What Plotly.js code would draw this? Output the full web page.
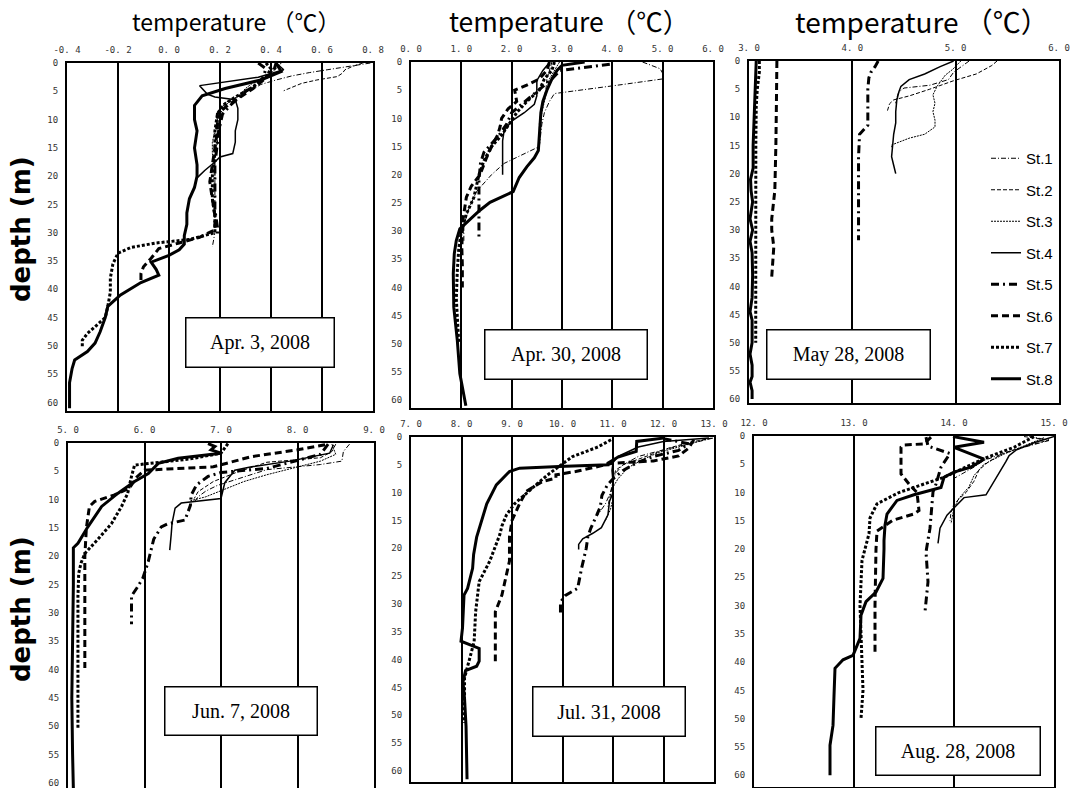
<!DOCTYPE html>
<html><head><meta charset="utf-8">
<script src="https://cdn.plot.ly/plotly-3.0.1.min.js"></script>
<style>html,body{margin:0;padding:0;background:#fff;} #chart{width:1071px;height:788px;}</style>
</head><body><div id="chart"></div>
<script>
// ---------- data ----------
const stations = ['St.1','St.2','St.3','St.4','St.5','St.6','St.7','St.8'];
const dates = ['Apr. 3, 2008','Apr. 30, 2008','May 28, 2008','Jun. 7, 2008','Jul. 31, 2008','Aug. 28, 2008'];
const depthTickVals = [0,5,10,15,20,25,30,35,40,45,50,55,60];

const apr03TickVals = [-0.4,-0.2,0,0.2,0.4,0.6,0.8];
const apr03TickText = ['-0. 4','-0. 2','0. 0','0. 2','0. 4','0. 6','0. 8'];
const apr30TickVals = [0,1,2,3,4,5,6];
const apr30TickText = ['0. 0','1. 0','2. 0','3. 0','4. 0','5. 0','6. 0'];
const may28TickVals = [3,4,5,6];
const may28TickText = ['3. 0','4. 0','5. 0','6. 0'];
const jun07TickVals = [5,6,7,8,9];
const jun07TickText = ['5. 0','6. 0','7. 0','8. 0','9. 0'];
const jul31TickVals = [7,8,9,10,11,12,13];
const jul31TickText = ['7. 0','8. 0','9. 0','10. 0','11. 0','12. 0','13. 0'];
const aug28TickVals = [12,13,14,15];
const aug28TickText = ['12. 0','13. 0','14. 0','15. 0'];

// Apr. 3, 2008 (temperature per station, depth per station)
const apr03Temp = [
 [0.79,0.70,0.62,0.55,0.48,0.42,0.36,0.33,0.28,0.25,0.22,0.20,0.19,0.19,0.18,0.18,0.18,0.18,0.18,0.17],
 [0.76,0.72,0.69,0.68,0.66,0.58,0.52,0.48,0.45],
 [0.44,0.42,0.38,0.33,0.30,0.27,0.22,0.20,0.19,0.18,0.17,0.17,0.18,0.18],
 [0.42,0.45,0.35,0.12,0.15,0.18,0.26,0.27,0.27,0.26,0.26,0.25,0.20,0.18,0.14,0.11],
 [0.35,0.38,0.37,0.34,0.30,0.27,0.24,0.21,0.20,0.19,0.18,0.18,0.18,0.19,0.19],
 [0.42,0.41,0.37,0.33,0.28,0.23,0.19,0.19,0.18,0.17,0.16,0.17,0.18,0.18,0.12,0.04,-0.04,-0.07,-0.10,-0.11,-0.11],
 [0.38,0.40,0.38,0.32,0.26,0.21,0.19,0.18,0.18,0.17,0.17,0.18,0.18,0.08,-0.05,-0.15,-0.20,-0.22,-0.23,-0.23,-0.24,-0.25,-0.29,-0.32,-0.34,-0.34],
 [0.42,0.44,0.36,0.22,0.13,0.10,0.10,0.11,0.10,0.11,0.11,0.10,0.08,0.07,0.07,0.06,0.06,0.04,0.00,-0.07,-0.05,-0.04,-0.11,-0.19,-0.24,-0.25,-0.27,-0.29,-0.32,-0.37,-0.38,-0.39,-0.39]
];
const apr03Depth = [
 [0,0.7,1.2,1.7,2.3,3.0,3.8,4.6,5.5,6.5,7.5,9,11,14,17,20,24,28,30,32.5],
 [0,0.6,1.2,1.8,2.4,3.0,3.6,4.3,4.9],
 [0,1,2.5,3.5,4.5,6,7,8.5,10,12,14,16,18,20],
 [0,1.2,2.5,4.0,5.5,6,6.5,8,10,12,14,16,16.6,17.5,19,20.3],
 [0,1,2.5,4,5,6.2,7.5,9,11,14,18,22,26,29,30.5],
 [0,1.5,3.0,4.5,6,7.5,9,12,15,18,21,24,27,29.5,30.8,31.8,32.8,34.5,36,37.2,38.5],
 [0,1,2.5,4.5,6,7.5,9,12,16,20,24,27,30,31.2,31.8,32.6,33.6,35.5,38,40.5,43,45,46.6,47.8,49,50.4],
 [0,1.5,3,4.5,5.8,7.5,10,12,15,18,20,22,24,26.5,28.5,30.5,32,33,34,35.2,36.5,37.5,38.8,41,43,45,47.5,49.5,51,52.5,54,56.5,61]
];

// Apr. 30, 2008
const apr30Temp = [
 [4.6,4.95,5.0,5.0,4.2,3.4,2.85,2.75,2.65,2.6,2.58,2.55,2.2,1.85,1.6,1.3,1.15,1.05,1.05],
 [2.8,2.75,2.7,2.68,2.62,2.58,2.55,2.55,2.55],
 [2.95,2.85,2.75,2.7,2.65,2.6,2.58,2.56,2.55],
 [2.76,2.62,2.5,2.5,2.45,2.25,2.0,1.85,1.82,1.82,1.82,1.82],
 [3.95,3.5,2.96,2.8,2.6,2.4,2.2,2.0,1.9,1.75,1.6,1.45,1.38,1.35,1.35,1.35,1.35],
 [2.75,2.7,2.55,2.3,2.06,2.1,1.93,1.8,1.77,1.72,1.6,1.5,1.37,1.2,1.1,1.04,1.02,1.01,1.02,1.02],
 [2.85,2.8,2.65,2.55,2.3,2.1,1.95,1.8,1.6,1.45,1.35,1.3,1.25,1.1,1.0,0.95,0.92,0.9,0.92,0.95],
 [3.45,3.0,2.9,2.8,2.7,2.62,2.58,2.56,2.55,2.53,2.45,2.3,2.15,2.03,1.57,1.37,1.17,0.97,0.9,0.86,0.84,0.85,0.92,0.97,1.09]
];
const apr30Depth = [
 [0,1.2,2,3,4,5,5.6,7,9,11,13,15,16.5,18,20,23,26,29,32],
 [0,1.5,3,5,7,9,11,13,15],
 [0,1.5,3,5,7,9,11,13,15],
 [0,1.5,3.3,6,7.5,9,10.5,12.2,14,16,18,20],
 [0.4,0.9,1.5,3,4.5,6,7.5,9,11,13,14.5,16,18,21,25,28,31.5],
 [0,1.5,3,4.1,5,7,8.3,10,11.5,13,15,17,20,22,24,27.5,30,33,36,40],
 [0,1.5,3,5,7,9,11,13,15,17.5,20,22,24,27,30,33,37,42,46,50],
 [0,0.6,1.5,3,5,7,9,11,13,15.7,17,18.6,20.5,23,24.9,26.3,28,29.6,31.7,34,37.6,43.5,49.4,55.3,61]
];

// May 28, 2008
const may28Temp = [
 [5.13,5.05,4.98,4.93,4.75,4.5,4.45,4.43,4.42],
 [5.4,5.35,5.2,4.98,4.75,4.55,4.4,4.36,4.34],
 [5.05,4.97,4.9,4.82,4.78,4.8,4.78,4.8,4.8,4.7,4.55,4.38,4.38],
 [4.98,4.85,4.7,4.55,4.47,4.45,4.43,4.42,4.42,4.4,4.39,4.38,4.4,4.42],
 [4.25,4.22,4.18,4.16,4.15,4.15,4.15,4.07,4.06,4.06,4.06,4.06],
 [3.27,3.27,3.265,3.26,3.25,3.22,3.22,3.24,3.23,3.22],
 [3.1,3.1,3.08,3.07,3.066,3.065,3.065,3.066,3.065],
 [3.07,3.06,3.05,3.04,3.04,3.015,3.02,3.035,3.01,3.035,3.01,3.03,3.035,3.03,3.01,3.03,3.03,3.01,3.03,3.03,3.01,3.03,3.03]
];
const may28Depth = [
 [0,1,2,3.3,4.3,4.8,5.5,6.5,7.5],
 [0,0.8,2.3,3.5,5,6.2,6.9,7.6,8.8],
 [0,1.5,2.5,4.5,6,7.5,9,10.5,11.7,13,13.7,14.9,15.3],
 [0,1,2.3,3.3,4.5,5.5,7,9,11,13,15,17,18.5,20],
 [0,1,2,3,5,8,11.4,13,17,23,28,31.8],
 [0,3,8,15,23,28,30,33,36,38.3],
 [0,2,5,8,15,20,30,40,50],
 [0,5,10,15,19,21,23,25,28,30,32,34,38,42,44.5,46,50,52,54,56,57,58.5,60]
];

// Jun. 7, 2008
const jun07Temp = [
 [8.68,8.6,8.58,8.3,7.6,7.4,7.2,6.95,6.8,6.7,6.64],
 [8.5,8.45,8.3,7.6,7.2,6.9,6.7,6.65],
 [8.45,8.5,8.3,7.6,7.3,7.0,6.8,6.6],
 [8.47,8.42,7.9,7.4,7.18,7.05,7.0,6.48,6.4,6.36,6.35,6.33],
 [8.4,8.3,7.6,7.0,6.83,6.68,6.61,6.6,6.53,6.3,6.22,6.12,6.05,5.98,5.9,5.83,5.83],
 [8.36,8.0,7.4,6.9,6.3,6.0,5.9,5.8,5.6,5.35,5.28,5.24,5.22,5.22,5.22,5.22],
 [7.09,7.0,6.6,5.87,5.83,5.78,5.7,5.57,5.39,5.22,5.17,5.14,5.13,5.13,5.13,5.13],
 [6.83,6.92,6.87,7.0,6.44,6.18,6.05,5.87,5.65,5.44,5.26,5.13,5.07,5.07,5.06,5.05,5.06,5.07]
];
const jun07Depth = [
 [0.2,1.5,3.2,3.8,4.7,5.6,6.5,7.5,8.5,9.5,10.6],
 [0.2,1.5,2.6,3.4,5.2,6.8,8.6,9.8],
 [0.2,2,3.2,5.6,6.8,8.5,9.5,10.2],
 [0.3,1.8,3.2,4.2,4.8,7,9.8,10.6,11.5,14.2,16,18.9],
 [0.2,2,4.5,5.2,5.9,7.4,9.2,11,13.6,14.3,14.8,17,20.9,23.8,25.6,27,32],
 [0.3,1.2,2.4,4.2,4.6,4.8,6,8,9.2,10.3,11.2,15,20,27,33,39.7],
 [0.1,1.8,2.8,3.9,5.9,8.9,11.2,14.2,17,19.5,21.2,23,27,35,45,50.6],
 [0.1,0.6,1.2,1.8,2.7,3.6,5.4,6.8,8.9,11.2,14.8,17.7,18.5,25,35,45,55,61]
];

// Jul. 31, 2008
const jul31Temp = [
 [12.98,12.5,12.0,11.5,11.2,11.05,11.0,10.95,10.85,10.7],
 [12.95,12.5,12.1,11.8,11.5,11.2,11.05,11.0,10.95,10.9],
 [12.9,12.4,11.9,11.6,11.3,11.1,11.0,11.0,10.95,10.85],
 [12.9,12.0,11.5,11.1,11.0,10.98,11.0,11.0,10.93,10.9,10.77,10.6,10.4,10.32,10.32],
 [12.0,12.5,12.3,11.8,11.5,11.2,11.0,10.89,10.78,10.75,10.68,10.56,10.5,10.47,10.38,10.3,10.05,9.96,9.96],
 [12.6,12.5,12.3,11.8,11.0,10.26,9.87,9.87,9.6,9.28,9.15,9.0,8.95,8.95,8.8,8.67,8.67,8.67],
 [10.96,10.7,10.2,9.93,9.75,9.55,9.3,9.05,8.89,8.8,8.76,8.56,8.35,8.28,8.25,8.15,8.06,8.06,8.06],
 [12.0,11.47,11.46,11.1,10.9,10.9,9.93,9.15,8.95,8.69,8.5,8.37,8.3,8.24,8.22,8.12,8.05,8.02,7.99,8.35,8.35,8.3,8.08,8.03,8.06,8.09,8.1,8.11]
];
const jul31Depth = [
 [0.2,1.2,2.3,3.5,5,6.5,8,10,12,14],
 [0.2,1,2,3,4,5,6,8,10,12.5],
 [0.3,1.5,2.8,4,5.5,7.5,9,11,13,15],
 [0.2,0.8,1.8,3.5,4.6,6,8,10,11.6,14,16.3,17.3,18.3,19.3,20.2],
 [0.3,1.2,2.4,3.5,4.5,6,7.5,8.6,10.5,12.5,14,16.4,18,20,23.5,27.2,28.5,29.7,31.7],
 [0.5,2,3.4,4.3,4.7,6.2,6.8,7.4,8,9.8,12,15,18,22.3,28.4,31.4,35,40.3],
 [0.5,1.8,3.5,5.3,6.5,8,10,12,14,16,17.5,22.3,26,31.4,36.8,40.3,43.3,47,51.4],
 [0.2,0.8,2.6,3.6,4.7,5.0,5.3,5.6,6.2,8.6,12,15.7,18,21.1,23.6,27.2,28.4,34.3,36.7,38,40.3,41.2,42,44,47,52,56,61.5]
];

// Aug. 28, 2008
const aug28Temp = [
 [14.75,14.95,14.8,14.6,14.45,14.3,14.2,14.1,14.0],
 [14.7,14.95,14.7,14.5,14.35,14.25,14.2,14.12,14.0,13.97,13.96],
 [14.9,14.7,14.5,14.3,14.2,14.15,14.05,14.0,13.98,13.97],
 [15.0,14.8,14.62,14.55,14.52,14.45,14.38,14.32,14.1,14.0,13.93,13.86,13.85,13.84],
 [13.72,13.74,13.96,13.87,13.82,13.79,13.76,13.72,13.74,13.71],
 [13.77,13.7,13.5,13.47,13.47,13.55,13.63,13.65,13.6,13.39,13.23,13.22,13.21,13.21],
 [14.8,14.6,14.3,13.9,13.7,13.45,13.23,13.16,13.15,13.08,13.06,13.07,13.09,13.07],
 [13.99,14.3,14.0,14.3,14.17,14.0,13.9,13.87,13.6,13.43,13.33,13.31,13.3,13.3,13.29,13.22,13.12,13.07,13.06,12.99,12.89,12.81,12.8,12.79,12.76,12.76]
];
const aug28Depth = [
 [0,0.8,1.5,2.5,3.4,4.3,5.5,6.5,7.5],
 [0.1,0.7,1.9,3,4.5,6,8,10,12,13.5,15],
 [0.3,1.8,3.2,5,7,9,11,12.8,14.5,15.5],
 [0.1,1.2,2.5,3.5,4.5,6.5,8.5,10.4,10.9,12.8,14,16.3,17.5,19],
 [0.2,1.8,3.1,5.5,8.5,9.9,16.3,20.5,25.8,31.1],
 [0.2,1.4,1.6,2,6.7,8.5,10,13.2,13.8,14.9,16.8,20,30,38.8],
 [0.1,2,4,7.3,8.5,10,12,14.5,17.3,22,30,36,45,50],
 [0.1,1.1,2,4.1,5.5,6.4,7.3,9.1,10.4,11.4,13.8,15.8,18.5,20,25.2,27.6,29.3,31.7,35.8,38.8,39.6,41.1,46,51.2,54.7,60]
];

// ---------- layout / styling ----------
const W = 1071, H = 788;
const fx = px => px / W;
const fy = py => 1 - py / H;

const lineStyles = [
  {width: 1,   dash: '5px,2px,1px,2px'},
  {width: 1,   dash: '4px,2px'},
  {width: 1,   dash: '2px,1px'},
  {width: 1.5, dash: 'solid'},
  {width: 3,   dash: '8px,4px,2px,4px'},
  {width: 3,   dash: '7px,4px'},
  {width: 3,   dash: '3px,2px'},
  {width: 3,   dash: 'solid'}
];

const panels = [
  {temp: apr03Temp, depth: apr03Depth, px: [67,373],  py: [63,411],  xr: [-0.4,0.8], ymax: 61.5, tv: apr03TickVals, tt: apr03TickText, box: [259.5,342,151,52]},
  {temp: apr30Temp, depth: apr30Depth, px: [411,713], py: [62,408],  xr: [0,6],      ymax: 61.4, tv: apr30TickVals, tt: apr30TickText, box: [565.5,354,165,52]},
  {temp: may28Temp, depth: may28Depth, px: [749,1059],py: [61,403],  xr: [3,6],      ymax: 60.7, tv: may28TickVals, tt: may28TickText, box: [848,354,166,52]},
  {temp: jun07Temp, depth: jun07Depth, px: [68,374],  py: [443,788], xr: [5,9],      ymax: 60.9, tv: jun07TickVals, tt: jun07TickText, box: [240.5,710.5,155,51]},
  {temp: jul31Temp, depth: jul31Depth, px: [411,714], py: [437,782], xr: [7,13],     ymax: 62.0, tv: jul31TickVals, tt: jul31TickText, box: [608.5,711,155,52]},
  {temp: aug28Temp, depth: aug28Depth, px: [754,1054],py: [436,787], xr: [12,15],    ymax: 62.1, tv: aug28TickVals, tt: aug28TickText, box: [957.5,750.5,167,51]}
];

const traces = [];
const layout = {
  width: W, height: H,
  margin: {l:0, r:0, t:0, b:0},
  paper_bgcolor: '#fff', plot_bgcolor: '#fff',
  showlegend: true,
  legend: {
    x: fx(986), y: fy(142), xanchor: 'left', yanchor: 'top',
    bgcolor: 'rgba(0,0,0,0)', borderwidth: 0,
    font: {family: 'Liberation Sans Narrow, Liberation Sans, sans-serif', size: 15, color: '#000'},
    tracegroupgap: 9, itemwidth: 30
  },
  annotations: []
};

const tickFont = {family: 'Liberation Sans Narrow, DejaVu Sans Mono, monospace', size: 9, color: '#333'};

panels.forEach((p, i) => {
  const n = i + 1;
  const sfx = (n === 1 ? '' : String(n));
  layout['xaxis' + sfx] = {
    domain: [fx(p.px[0]), fx(p.px[1])], range: p.xr, side: 'top',
    anchor: 'y' + sfx,
    tickvals: p.tv, ticktext: p.tt, tickfont: tickFont, ticks: '', ticklabelstandoff: 4,
    ticklabeloverflow: 'allow',
    showgrid: true, gridcolor: '#000', gridwidth: 2, zeroline: false,
    showline: true, mirror: true, linecolor: '#000', linewidth: 2, fixedrange: true
  };
  layout['yaxis' + sfx] = {
    domain: [fy(p.py[1]), fy(p.py[0])], range: [p.ymax, 0],
    anchor: 'x' + sfx,
    tickvals: depthTickVals, tickfont: tickFont, ticks: '', ticklabelstandoff: 5,
    ticklabeloverflow: 'allow',
    showgrid: false, zeroline: false,
    showline: true, mirror: true, linecolor: '#000', linewidth: 2, fixedrange: true
  };
  p.temp.forEach((t, s) => {
    traces.push({
      type: 'scatter', mode: 'lines',
      x: t, y: p.depth[s],
      xaxis: 'x' + sfx, yaxis: 'y' + sfx,
      name: stations[s], legendgroup: stations[s],
      showlegend: i === 2,
      line: {color: '#000', width: lineStyles[s].width, dash: lineStyles[s].dash},
      hoverinfo: 'skip'
    });
  });
  layout.annotations.push({
    xref: 'paper', yref: 'paper', x: fx(p.box[0]), y: fy(p.box[1]),
    xanchor: 'center', yanchor: 'middle', showarrow: false,
    text: dates[i], width: p.box[2] - 4, height: p.box[3] - 4,
    bgcolor: '#fff', bordercolor: '#000', borderwidth: 1.5, borderpad: 0,
    font: {family: 'Liberation Serif, Times New Roman, serif', size: 20, color: '#000'}
  });
});

[[236, 21, 23], [569, 21, 26.5], [922, 21, 28]].forEach(c => {
  layout.annotations.push({
    xref: 'paper', yref: 'paper', x: fx(c[0]), y: fy(c[1]),
    xanchor: 'center', yanchor: 'middle', showarrow: false,
    text: 'temperature （℃）',
    font: {family: 'Noto Sans CJK JP, Noto Sans, sans-serif', size: c[2], color: '#000'}
  });
});
[[21, 229], [21, 609]].forEach(c => {
  layout.annotations.push({
    xref: 'paper', yref: 'paper', x: fx(c[0]), y: fy(c[1]),
    xanchor: 'center', yanchor: 'middle', showarrow: false, textangle: -90,
    text: 'depth (m)',
    font: {family: 'DejaVu Sans, sans-serif', size: 26, color: '#000', weight: 'bold'}
  });
});

Plotly.newPlot('chart', traces, layout, {staticPlot: true, displayModeBar: false});
</script>
</body></html>
